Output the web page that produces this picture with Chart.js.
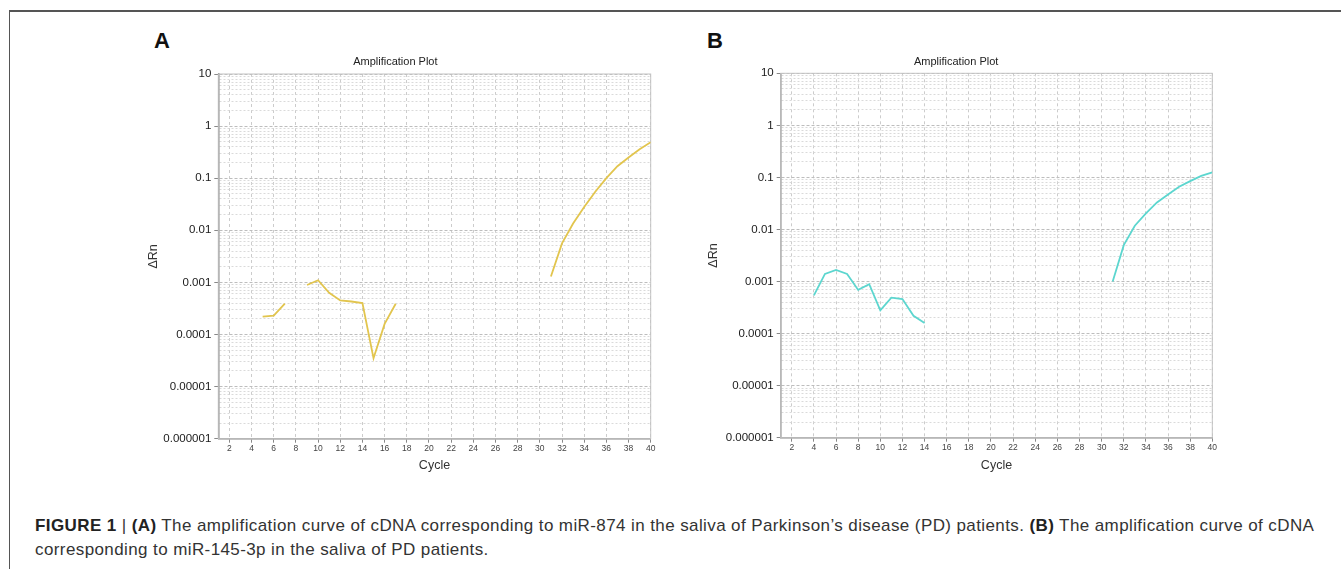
<!DOCTYPE html>
<html>
<head>
<meta charset="utf-8">
<title>Amplification Plot</title>
<script src="https://cdn.jsdelivr.net/npm/chart.js@4.4.1/dist/chart.umd.min.js"></script>
<style>
  body { margin: 0; background: #fff; }
  #page {
    position: relative; width: 1341px; height: 569px; overflow: hidden;
    background: #fff; font-family: 'Liberation Sans', Arial, sans-serif;
  }
  .frame-top { position: absolute; left: 9px; top: 10px; width: 1332px; height: 1.5px; background: #555; }
  .frame-left { position: absolute; left: 8.5px; top: 10px; width: 1.5px; height: 559px; background: #555; }
  .panel-label { position: absolute; font-size: 22px; line-height: 22px; font-weight: bold; color: #111; }
  canvas { position: absolute; }
  .caption {
    position: absolute; left: 35px; top: 514px; width: 1300px;
    font-size: 17px; line-height: 24px; letter-spacing: 0.4px; color: #333; white-space: nowrap;
  }
  .caption b { color: #222; }
</style>
</head>
<body>
<div id="page">
  <div class="frame-top"></div>
  <div class="frame-left"></div>
  <div class="panel-label" style="left:154px; top:30px">A</div>
  <div class="panel-label" style="left:707px; top:30px">B</div>
  <canvas id="chartA" width="530" height="430" style="left:140px; top:50px"></canvas>
  <canvas id="chartB" width="530" height="430" style="left:700px; top:50px"></canvas>
  <div class="caption">
    <b>FIGURE 1</b> | <b>(A)</b> The amplification curve of cDNA corresponding to miR-874 in the saliva of Parkinson’s disease (PD) patients. <b>(B)</b> The amplification curve of cDNA<br>
    corresponding to miR-145-3p in the saliva of PD patients.
  </div>
</div>

<script>
// Cycle numbers on the x axis
const cycles = [1, 2, 3, 4, 5, 6, 7, 8, 9, 10, 11, 12, 13, 14, 15, 16, 17, 18, 19, 20,
  21, 22, 23, 24, 25, 26, 27, 28, 29, 30, 31, 32, 33, 34, 35, 36, 37, 38, 39, 40]
const cycleTicks = [2, 4, 6, 8, 10, 12, 14, 16, 18, 20, 22, 24, 26, 28, 30, 32, 34, 36, 38, 40]

// Log axis decade labels (bottom to top)
const deltaRnTicks = ['0.000001', '0.00001', '0.0001', '0.001', '0.01', '0.1', '1', '10']

// ΔRn per cycle, null = no point drawn (gap in the trace)
const mir874 = [null, null, null, null, 0.00022, 0.00023, 0.00039, null, 0.00089, 0.0011,
  0.00063, 0.00045, 0.00043, 0.00040, 0.000035, 0.00016, 0.00039, null, null, null,
  null, null, null, null, null, null, null, null, null, null,
  0.0013, 0.0056, 0.0135, 0.028, 0.055, 0.10, 0.17, 0.25, 0.36, 0.49]

const mir145 = [null, null, null, 0.00054, 0.0014, 0.00167, 0.0014, 0.00069, 0.00089, 0.00028,
  0.00049, 0.00046, 0.00022, 0.00016, null, null, null, null, null, null,
  null, null, null, null, null, null, null, null, null, null,
  0.0010, 0.0050, 0.0118, 0.0203, 0.033, 0.047, 0.066, 0.085, 0.107, 0.125]

const FONT = "'Liberation Sans', Arial, sans-serif"

// Solid light frame round the plot area (top and right edges)
const plotFrame = {
  id: 'plotFrame',
  beforeDatasetsDraw(chart) {
    const { ctx, chartArea: a } = chart
    ctx.save()
    ctx.strokeStyle = '#c4c4c4'
    ctx.lineWidth = 1
    ctx.strokeRect(a.left, a.top, a.right - a.left, a.bottom - a.top)
    ctx.restore()
  }
}

function makePanel(canvasId, values, color, geom) {
  const points = cycles.map((c, i) => ({ x: c, y: values[i] }))

  return new Chart(document.getElementById(canvasId), {
    type: 'line',
    data: {
      datasets: [{
        data: points,
        borderColor: color,
        borderWidth: 1.8,
        pointRadius: 0,
        tension: 0,
        spanGaps: false
      }]
    },
    plugins: [plotFrame],
    options: {
      responsive: false,
      animation: false,
      layout: { padding: { left: 0, right: geom.padRight, top: 0, bottom: 0 } },
      plugins: {
        legend: { display: false },
        tooltip: { enabled: false },
        title: {
          display: true,
          text: 'Amplification Plot',
          color: '#222',
          font: { family: FONT, size: 11, weight: 'normal' },
          padding: { top: 5, bottom: geom.titleBottom }
        }
      },
      scales: {
        x: {
          type: 'linear',
          min: 1,
          max: 40,
          afterBuildTicks: scale => {
            scale.ticks = cycleTicks.map(v => ({ value: v }))
          },
          afterFit: scale => { scale.height = geom.xAxisHeight },
          ticks: {
            color: '#444',
            font: { family: FONT, size: 8.5 },
            padding: 1,
            maxRotation: 0,
            autoSkip: false
          },
          grid: {
            color: '#cccccc',
            lineWidth: 1,
            tickColor: '#888',
            tickLength: 4
          },
          border: { color: '#888', width: 1.5, dash: [3, 3] },
          title: {
            display: true,
            text: 'Cycle',
            color: '#333',
            font: { family: FONT, size: 12.5 },
            padding: { top: 0, bottom: 7 }
          }
        },
        y: {
          type: 'logarithmic',
          min: 0.000001,
          max: 10,
          afterBuildTicks: scale => {
            const ticks = []
            deltaRnTicks.forEach((label, i) => {
              const base = Number(label)
              ticks.push({ value: base, major: true, text: label })
              if (i < deltaRnTicks.length - 1) {
                for (let m = 2; m <= 9; m++) ticks.push({ value: base * m, major: false, text: '' })
              }
            })
            scale.ticks = ticks
          },
          afterFit: scale => { scale.width = geom.yAxisWidth },
          ticks: {
            color: '#1a1a1a',
            font: { family: FONT, size: 11.5 },
            padding: 3,
            autoSkip: false,
            callback: (value, index, ticks) => ticks[index].text
          },
          grid: {
            color: ctx => (ctx.tick && ctx.tick.major) ? '#bdbdbd' : '#dadada',
            lineWidth: 1,
            tickColor: ctx => (ctx.tick && ctx.tick.major) ? '#888' : 'rgba(0,0,0,0)',
            tickLength: 4
          },
          border: {
            color: '#888',
            width: 1.5,
            dash: ctx => (ctx.tick && ctx.tick.major) ? [3, 2] : [2, 2]
          },
          title: {
            display: true,
            text: 'ΔRn',
            color: '#333',
            font: { family: FONT, size: 12.5 },
            padding: { top: 5.6, bottom: 0 }
          }
        }
      }
    }
  })
}

makePanel('chartA', mir874, '#e2c54e', { yAxisWidth: 78.3, xAxisHeight: 41.3, padRight: 19.3, titleBottom: 5.8 })
makePanel('chartB', mir145, '#5cd6cf', { yAxisWidth: 80.7, xAxisHeight: 42.3, padRight: 17.7, titleBottom: 5.1 })
</script>
</body>
</html>
